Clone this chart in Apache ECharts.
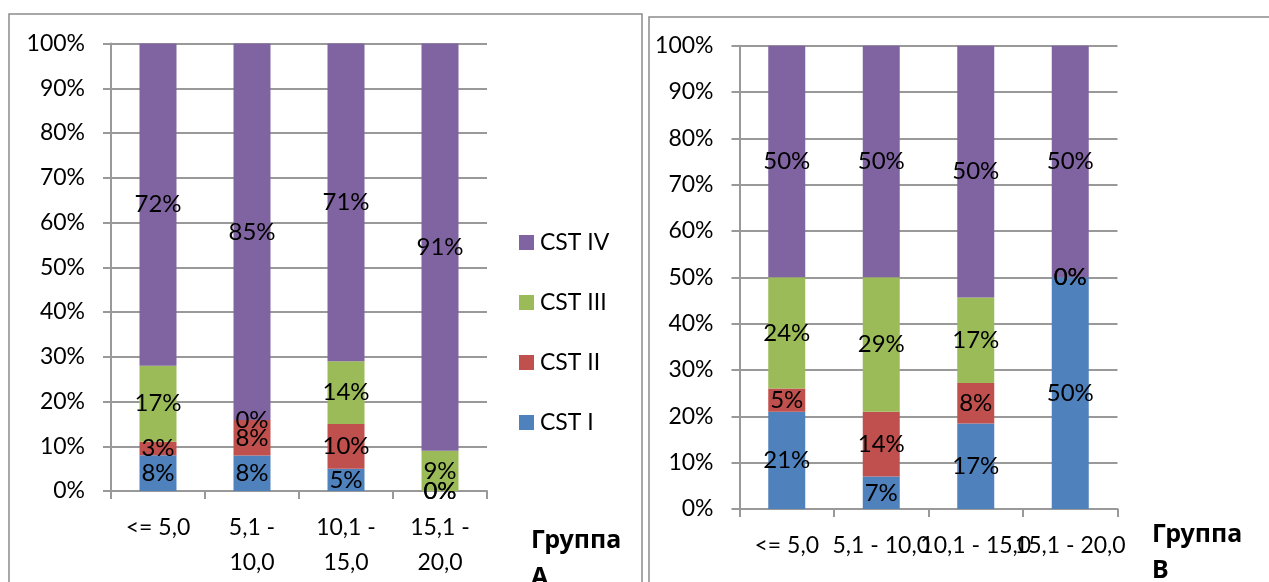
<!DOCTYPE html>
<html>
<head>
<meta charset="utf-8">
<script src="https://cdn.jsdelivr.net/npm/echarts@6/dist/echarts.min.js"></script>
<style>
  html, body { margin: 0; padding: 0; background: #fff; }
  #chart { width: 1269px; height: 582px; }
</style>
</head>
<body>
<div id="chart"></div>
<script>
// Size classes (shared by both groups)
const categories = ['<= 5,0', '5,1 - 10,0', '10,1 - 15,0', '15,1 - 20,0'];
const seriesNames = ['CST I', 'CST II', 'CST III', 'CST IV'];
const yTicks = [0, 10, 20, 30, 40, 50, 60, 70, 80, 90, 100];

// Group A, per CST stage (%)
const groupA_cst1 = [8, 8, 5, 0];
const groupA_cst2 = [3, 8, 10, 0];
const groupA_cst3 = [17, 0, 14, 9];
const groupA_cst4 = [72, 85, 71, 91];

// Group B, per CST stage (%)
const groupB_cst1 = [21, 7, 17, 50];
const groupB_cst2 = [5, 14, 8, 0];
const groupB_cst3 = [24, 29, 17, 0];
const groupB_cst4 = [50, 50, 50, 50];

const colors = ['#4F81BD', '#C0504D', '#9BBB59', '#8064A2'];
const FONT = "Lato, 'Noto Sans', sans-serif";
const FS = 23;
const FS_LABEL = 24;
const GRID_LINE = '#999999';

// 100% stacked: each bar is its share of the category total, labelled with its own value
function shares(groups) {
  const totals = categories.map((_, i) => groups.reduce((s, g) => s + g[i], 0));
  return groups.map(g => g.map((v, i) => ({ value: v / totals[i] * 100, raw: v })));
}

const dataA = shares([groupA_cst1, groupA_cst2, groupA_cst3, groupA_cst4]);
const dataB = shares([groupB_cst1, groupB_cst2, groupB_cst3, groupB_cst4]);

function makeSeries(data, idx, stack) {
  return data.map((d, k) => ({
    name: seriesNames[k],
    type: 'bar',
    stack: stack,
    xAxisIndex: idx,
    yAxisIndex: idx,
    barWidth: 37,
    itemStyle: { color: colors[k] },
    data: d,
    label: {
      show: true,
      position: 'inside',
      color: '#000',
      fontFamily: FONT,
      fontSize: FS_LABEL,
      formatter: p => p.data.raw + '%'
    },
    emphasis: { disabled: true },
    animation: false
  }));
}

function yAxis(gridIndex) {
  return {
    type: 'value',
    gridIndex: gridIndex,
    min: yTicks[0],
    max: yTicks[yTicks.length - 1],
    interval: yTicks[1] - yTicks[0],
    axisLine: { show: true, lineStyle: { color: GRID_LINE, width: 2 } },
    axisTick: { show: true, length: 8, lineStyle: { color: GRID_LINE, width: 2 } },
    splitLine: { show: true, lineStyle: { color: GRID_LINE, width: 2 } },
    axisLabel: { formatter: '{value}%', color: '#000', fontFamily: FONT, fontSize: FS, margin: 26 }
  };
}

function xAxis(gridIndex, wrap) {
  return {
    type: 'category',
    gridIndex: gridIndex,
    data: categories,
    axisLine: { show: true, lineStyle: { color: GRID_LINE, width: 2 } },
    axisTick: { show: true, length: 8, alignWithLabel: false, lineStyle: { color: GRID_LINE, width: 2 } },
    axisLabel: {
      interval: 0,
      color: '#000',
      fontFamily: FONT,
      fontSize: FS,
      lineHeight: 35,
      margin: 19,
      formatter: v => wrap ? v.replace(' - ', ' -\n') : v
    }
  };
}

const chart = echarts.init(document.getElementById('chart'));
chart.setOption({
  animation: false,
  backgroundColor: '#fff',
  grid: [
    { left: 111, top: 43.5, width: 376, height: 447.5 },
    { left: 739.5, top: 45.7, width: 378, height: 463.3 }
  ],
  xAxis: [xAxis(0, true), xAxis(1, false)],
  yAxis: [yAxis(0), yAxis(1)],
  legend: {
    orient: 'vertical',
    left: 519,
    top: 231,
    padding: 0,
    itemWidth: 15,
    itemHeight: 15,
    itemGap: 37,
    icon: 'rect',
    data: ['CST IV', 'CST III', 'CST II', 'CST I'],
    textStyle: { color: '#000', fontFamily: FONT, fontSize: FS, padding: [0, 0, 0, 1] },
    selectedMode: false
  },
  graphic: [
    { type: 'rect', shape: { x: 9, y: 14, width: 633, height: 620 }, style: { fill: null, stroke: '#8c8c8c', lineWidth: 1.5 }, silent: true, z: -1 },
    { type: 'rect', shape: { x: 649, y: 17, width: 700, height: 620 }, style: { fill: null, stroke: '#8c8c8c', lineWidth: 1.5 }, silent: true, z: -1 },
    { type: 'text', left: 531, top: 522, style: { text: 'Группа\nА', fontFamily: "'Noto Sans', sans-serif", fontSize: 25, fontWeight: 'bold', lineHeight: 37, fill: '#000' } },
    { type: 'text', left: 1152, top: 517, style: { text: 'Группа\nВ', fontFamily: "'Noto Sans', sans-serif", fontSize: 25, fontWeight: 'bold', lineHeight: 36, fill: '#000' } }
  ],
  series: [...makeSeries(dataA, 0, 'A'), ...makeSeries(dataB, 1, 'B')]
});
</script>
</body>
</html>
